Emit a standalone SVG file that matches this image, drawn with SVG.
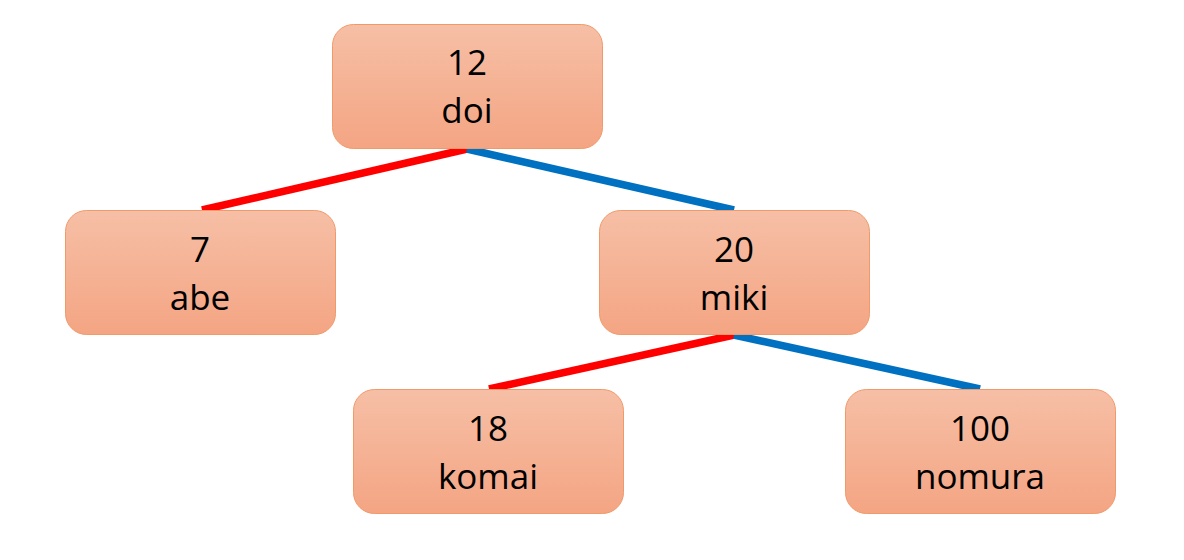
<svg xmlns="http://www.w3.org/2000/svg" width="1184" height="560" viewBox="0 0 1184 560">
<defs>
<linearGradient id="g" x1="0" y1="0" x2="0" y2="1">
<stop offset="0" stop-color="#F6BFA6"/>
<stop offset="1" stop-color="#F4A583"/>
</linearGradient>
<style>
.box{fill:url(#g);stroke:#F09A6A;stroke-width:1}
.t{font-family:"Open Sans","Noto Sans",sans-serif;font-size:35px;fill:#000;text-anchor:middle}
.r{stroke:#FF0000;stroke-width:7.5;fill:none}
.b{stroke:#0070C0;stroke-width:7.5;fill:none}
</style>
</defs>
<rect width="1184" height="560" fill="#fff"/>
<g id="connectors">
<line class="r" x1="467" y1="149" x2="202" y2="210"/>
<line class="b" x1="467" y1="149" x2="734" y2="210"/>
<line class="r" x1="734" y1="335" x2="489" y2="389"/>
<line class="b" x1="734" y1="335" x2="980" y2="389"/>
</g>
<g id="n12">
<rect class="box" x="332.5" y="24.5" width="270" height="124" rx="21"/>
<text class="t" x="467" y="75">12</text>
<text class="t" x="467" y="123">doi</text>
</g>
<g id="n7">
<rect class="box" x="65.5" y="210.5" width="270" height="124" rx="21"/>
<text class="t" x="200" y="262">7</text>
<text class="t" x="200" y="310">abe</text>
</g>
<g id="n20">
<rect class="box" x="599.5" y="210.5" width="270" height="124" rx="21"/>
<text class="t" x="734" y="262">20</text>
<text class="t" x="734" y="310">miki</text>
</g>
<g id="n18">
<rect class="box" x="353.5" y="389.5" width="270" height="124" rx="21"/>
<text class="t" x="488" y="441">18</text>
<text class="t" x="488" y="489">komai</text>
</g>
<g id="n100">
<rect class="box" x="845.5" y="389.5" width="270" height="124" rx="21"/>
<text class="t" x="980" y="441">100</text>
<text class="t" x="980" y="489">nomura</text>
</g>
</svg>
